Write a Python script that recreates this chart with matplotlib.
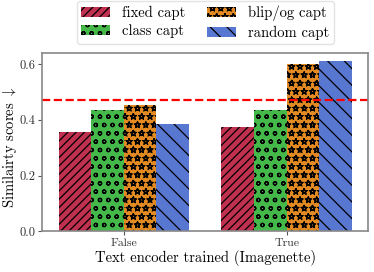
import numpy as np
import matplotlib
matplotlib.use("Agg")
import matplotlib.pyplot as plt
from matplotlib import hatch as mhatch

# stars in the reference are outlined, not filled
mhatch.Stars.filled = False

plt.rcParams['font.family'] = 'serif'
plt.rcParams['font.serif'] = ['cmr10']
plt.rcParams['mathtext.fontset'] = 'cm'
plt.rcParams['axes.formatter.use_mathtext'] = True
plt.rcParams['hatch.linewidth'] = 0.9

groups = ['False', 'True']
series = ['fixed capt', 'class capt', 'blip/og capt', 'random capt']
values = {
    'fixed capt': [0.356, 0.374],
    'class capt': [0.434, 0.434],
    'blip/og capt': [0.452, 0.601],
    'random capt': [0.384, 0.611],
}
baseline = 0.471
colors = ['#c0304f', '#45b84a', '#e38b22', '#5877d1']
hatches = ['////', 'oo', '**', '\\\\']

fig, ax = plt.subplots(figsize=(3.74, 2.72), dpi=100)
x = np.arange(len(groups))
w = 0.2
for i, s in enumerate(series):
    ax.bar(x - 0.3 + i * w, values[s], w, color=colors[i], hatch=hatches[i],
           edgecolor='black', linewidth=0, label=s)

ax.axhline(baseline, color='red', ls='--', lw=1.6)
ax.set_xlim(-0.5, 1.5)
ax.set_ylim(0, 0.64)
ax.set_xticks(x)
ax.set_xticklabels(groups, fontsize=8.5)
ax.set_yticks([0.0, 0.2, 0.4, 0.6])
ax.set_yticklabels(['0.0', '0.2', '0.4', '0.6'], fontsize=9)
ax.set_ylabel(r'Similairty scores $\downarrow$', fontsize=10.5)
ax.yaxis.set_label_coords(-0.072, 0.47)
ax.set_xlabel('Text encoder trained (Imagenette)', fontsize=10.5, labelpad=2)
for sp in ax.spines.values():
    sp.set_color('#888888')
    sp.set_linewidth(1.2)
ax.tick_params(colors='#555555', length=3, width=0.8, pad=2)
for t in ax.get_xticklabels() + ax.get_yticklabels():
    t.set_color('#333333')

ax.legend(ncol=2, loc='lower center', bbox_to_anchor=(0.5, 1.008), fontsize=10.5,
          frameon=True, edgecolor='#dddddd', handlelength=2.0, columnspacing=1.5,
          handletextpad=0.8, borderpad=0.3, labelspacing=0.3)

fig.subplots_adjust(left=0.113, right=0.984, bottom=0.15, top=0.805)
fig.savefig('out.png', dpi=100)
